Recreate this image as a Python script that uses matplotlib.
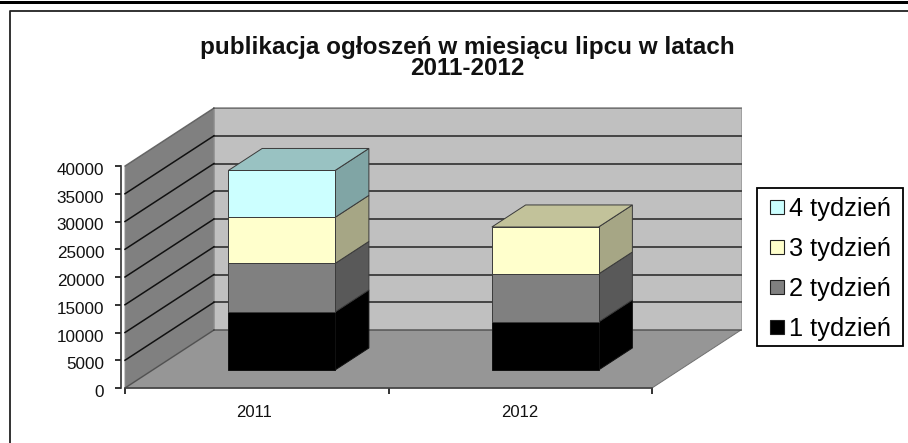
import numpy as np
import matplotlib
matplotlib.use("Agg")
import matplotlib.pyplot as plt
from matplotlib.patches import Polygon, Patch, Rectangle
from matplotlib.lines import Line2D
from matplotlib.transforms import ScaledTranslation

years = ["2011", "2012"]
series_names = ["1 tydzień", "2 tydzień", "3 tydzień", "4 tydzień"]
week1 = [10450, 8650]
week2 = [8750, 8650]
week3 = [8300, 8470]
week4 = [8450, 0]
y_ticks = [0, 5000, 10000, 15000, 20000, 25000, 30000, 35000, 40000]
title_lines = "publikacja ogłoszeń w miesiącu lipcu w latach\n2011-2012"

front_colors = ["#000000", "#808080", "#FFFFCC", "#CCFFFF"]
top_colors = ["#000000", "#606060", "#C2C29A", "#99C2C2"]
side_colors = ["#000000", "#595959", "#A6A685", "#80A5A5"]

W, H = 908, 443
plt.rcParams["font.family"] = ["Liberation Sans", "DejaVu Sans"]
fig = plt.figure(figsize=(W / 100, H / 100), dpi=100, facecolor="white")

# frame around the chart
fig.add_artist(Rectangle((0, 1 - 4 / H), 1, 2.5 / H, transform=fig.transFigure, color="black", lw=0))
fig.add_artist(Line2D([9.5 / W, 9.5 / W, 1], [0, 1 - 11 / H, 1 - 11 / H], transform=fig.transFigure,
                      color="#222222", lw=1.3))

# front plane of the plot: x 125..652 px, y 388..166 px
L, R, B, T = 125, 652, 388, 166
ax = fig.add_axes([L / W, 1 - B / H, (R - L) / W, (B - T) / H])
ax.set_xlim(0, 2)
ax.set_ylim(0, 40000)
ax.patch.set_visible(False)
for s in ["top", "right"]:
    ax.spines[s].set_visible(False)
ax.spines["left"].set_position(("outward", 3))
ax.spines["left"].set_color("#333333")
ax.spines["bottom"].set_color("#444444")
ax.spines["left"].set_linewidth(1.2)
ax.spines["bottom"].set_linewidth(1.2)
ax.set_yticks(y_ticks)
ax.set_xticks([0, 1, 2])
ax.set_xticklabels([])
ax.set_xticks([0.49, 1.5], labels=years, minor=True)
ax.tick_params(axis="x", which="minor", length=0, labelsize=12, pad=12.5, labelcolor="#111111")
ax.tick_params(axis="x", which="major", length=4, width=1.3, color="#222222", pad=2)
ax.tick_params(axis="y", length=4, width=1.3, color="#222222", labelsize=12.3, pad=8, labelcolor="#111111")
for lab in ax.get_yticklabels():
    lab.set_transform(lab.get_transform() + ScaledTranslation(0, -3 / 100, fig.dpi_scale_trans))

DX = 89 / (R - L) * 2
DY = 58 / (B - T) * 40000


def pr(x, y, d):
    return (x + d * DX, y + d * DY)


def quad(pts, fc, ec="#3a3a3a", lw=0.7, z=2):
    ax.add_patch(Polygon(pts, closed=True, facecolor=fc, edgecolor=ec, lw=lw, zorder=z, clip_on=False))


# walls and floor
quad([pr(0, 0, 1), pr(2, 0, 1), pr(2, 40000, 1), pr(0, 40000, 1)], "#C0C0C0", ec="#A0A0A0", z=1)
quad([pr(0, 0, 0), pr(0, 0, 1), pr(0, 40000, 1), pr(0, 40000, 0)], "#808080", ec="#909090", z=1)
quad([pr(0, 0, 0), pr(2, 0, 0), pr(2, 0, 1), pr(0, 0, 1)], "#969696", ec="#707070", z=1.5)
for v in y_ticks:
    bottom_or_top = v in (0, 40000)
    ax.plot(*zip(pr(0, v, 1), pr(2, v, 1)), color="#444444", lw=1.4, zorder=1.6, clip_on=False,
            alpha=0.5 if bottom_or_top else 1)
    ax.plot(*zip(pr(0, v, 0), pr(0, v, 1)), color="#111111", lw=1.1, zorder=1.6, clip_on=False,
            alpha=0.35 if bottom_or_top else 1)

# stacked 3-D columns
D0, D1 = 0.31, 0.69
BW = 0.405
stack = np.array([week1, week2, week3, week4], dtype=float)
for i in range(len(years)):
    x0, x1 = i + 0.49 - BW / 2, i + 0.49 + BW / 2
    base = 0.0
    nz = [k for k in range(4) if stack[k, i] > 0]
    for k in nz:
        top = base + stack[k, i]
        ec = "#111111" if k == 0 else "#3a3a3a"
        quad([pr(x1, base, D0), pr(x1, base, D1), pr(x1, top, D1), pr(x1, top, D0)], side_colors[k], ec=ec, z=3)
        quad([pr(x0, base, D0), pr(x1, base, D0), pr(x1, top, D0), pr(x0, top, D0)], front_colors[k], ec=ec, z=4)
        if k == nz[-1]:
            quad([pr(x0, top, D0), pr(x1, top, D0), pr(x1, top, D1), pr(x0, top, D1)], top_colors[k], ec=ec, z=4)
        base = top

# title
fig.text(467 / W, 1 - 58 / H, title_lines, ha="center", va="center", fontsize=17.5, fontweight="bold",
         linespacing=0.9, color="#111111")

# legend: frame and entries
fig.add_artist(Rectangle((757 / W, 1 - 346 / H), 146 / W, 158 / H, transform=fig.transFigure,
                         facecolor="white", edgecolor="black", lw=1.3, zorder=5))
handles = [Patch(facecolor=front_colors[k], edgecolor="#222222", lw=0.8, label=series_names[k]) for k in range(3, -1, -1)]
leg = fig.legend(handles=handles, loc="center left", bbox_to_anchor=(770 / W, 1 - 269 / H), fontsize=18.3,
                 frameon=False, handlelength=0.56, handleheight=0.43,
                 handletextpad=0.2, labelspacing=0.63, borderpad=0, borderaxespad=0)
leg.set_zorder(6)

fig.savefig("out.png", dpi=100)
